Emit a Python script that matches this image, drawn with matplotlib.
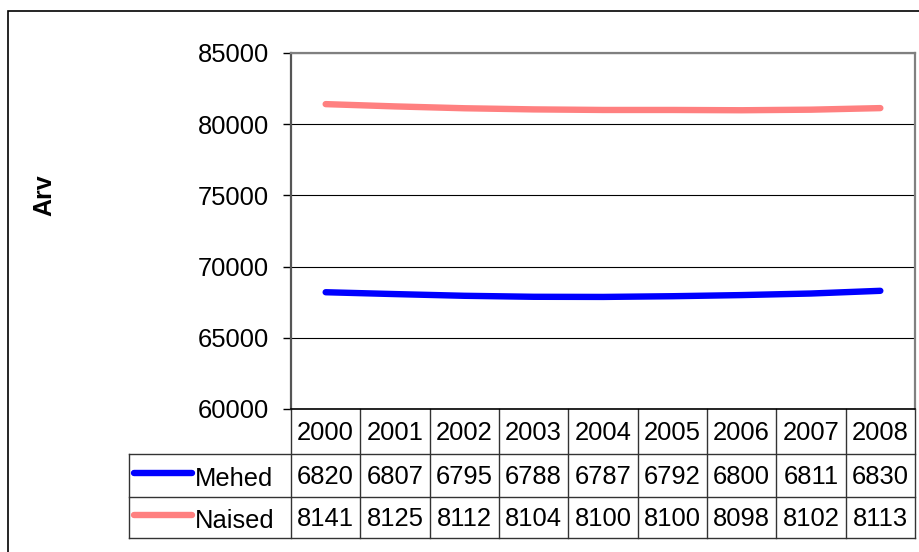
import matplotlib
matplotlib.use("Agg")
import matplotlib.pyplot as plt
from matplotlib.transforms import blended_transform_factory
from matplotlib.lines import Line2D
from matplotlib.patches import Rectangle

years = ["2000", "2001", "2002", "2003", "2004", "2005", "2006", "2007", "2008"]
mehed = [68200, 68070, 67950, 67880, 67870, 67920, 68000, 68110, 68300]
naised = [81410, 81250, 81120, 81040, 81000, 81000, 80980, 81020, 81130]
mehed_labels = ["6820", "6807", "6795", "6788", "6787", "6792", "6800", "6811", "6830"]
naised_labels = ["8141", "8125", "8112", "8104", "8100", "8100", "8098", "8102", "8113"]
series_names = ["Mehed", "Naised"]
colors = ["#0000FF", "#FF8080"]
y_ticks = [60000, 65000, 70000, 75000, 80000, 85000]
y_label = "Arv"

plt.rcParams['font.family'] = ['Liberation Sans', 'DejaVu Sans']
FS = 18.4
W, H = 920, 552
fig = plt.figure(figsize=(W / 100, H / 100), dpi=100)

def fx(px):
    return px / W

def fy(py):
    return 1 - py / H

# outer frame
fig.patches.append(Rectangle((fx(8), fy(562)), fx(930) - fx(8), fy(11) - fy(562),
                             transform=fig.transFigure, fill=False, edgecolor='black',
                             linewidth=1.2, zorder=0))

ax = fig.add_axes([fx(291), fy(409), fx(915) - fx(291), fy(53) - fy(409)])
x = list(range(len(years)))
for vals, c in zip([mehed, naised], colors):
    ax.plot(x, vals, color=c, linewidth=4.6, solid_capstyle='round', zorder=3)

ax.set_xlim(-0.5, len(years) - 0.5)
ax.set_ylim(y_ticks[0], y_ticks[-1])
ax.set_yticks(y_ticks)
ax.set_yticklabels([str(t) for t in y_ticks], fontsize=FS)
ax.tick_params(axis='y', length=6, width=1, color='black', pad=10)
ax.set_xticks([])
ax.yaxis.grid(True, color='black', linewidth=0.8)
ax.set_axisbelow(True)
for s in ['top', 'right', 'left']:
    ax.spines[s].set_color('#808080')
    ax.spines[s].set_linewidth(1.6)
ax.spines['left'].set_color('#555555')
ax.spines['bottom'].set_color('black')
ax.spines['bottom'].set_linewidth(1.2)

fig.text(fx(44), fy(195), y_label, rotation=90, fontsize=18, fontweight='bold',
         ha='center', va='center')

# data table below the axes
tr = blended_transform_factory(ax.transData, fig.transFigure)
row_y = [fy(409), fy(454), fy(497), fy(538)]
tcol = '#333333'
fig.lines.append(Line2D([fx(129), fx(915)], [row_y[1]] * 2, transform=fig.transFigure, color=tcol, lw=1))
fig.lines.append(Line2D([fx(129), fx(915)], [row_y[2]] * 2, transform=fig.transFigure, color=tcol, lw=1))
fig.lines.append(Line2D([fx(129), fx(915)], [row_y[3]] * 2, transform=fig.transFigure, color=tcol, lw=1))
fig.lines.append(Line2D([fx(129), fx(129)], [row_y[1], row_y[3]], transform=fig.transFigure, color=tcol, lw=1))
for i in range(len(years) + 1):
    ax.add_line(Line2D([i - 0.5, i - 0.5], [row_y[0], row_y[3]], transform=tr,
                       color=tcol, lw=1, clip_on=False))

def mid(a, b):
    return (a + b) / 2

for i, yr in enumerate(years):
    ax.text(i, mid(row_y[0], row_y[1]) - 0.002, yr, transform=tr, ha='center', va='center',
            fontsize=FS, clip_on=False)
    ax.text(i, mid(row_y[1], row_y[2]) - 0.002, mehed_labels[i], transform=tr, ha='center',
            va='center', fontsize=FS, clip_on=False)
    ax.text(i, mid(row_y[2], row_y[3]) - 0.002, naised_labels[i], transform=tr, ha='center',
            va='center', fontsize=FS, clip_on=False)

for r, (name, c) in enumerate(zip(series_names, colors)):
    yc = mid(row_y[1 + r], row_y[2 + r])
    fig.lines.append(Line2D([fx(134), fx(192)], [yc + 0.004] * 2, transform=fig.transFigure,
                            color=c, lw=4.6, solid_capstyle='round'))
    fig.text(fx(195), yc - 0.006, name, fontsize=FS, ha='left', va='center')

fig.savefig("out.png", dpi=100)
